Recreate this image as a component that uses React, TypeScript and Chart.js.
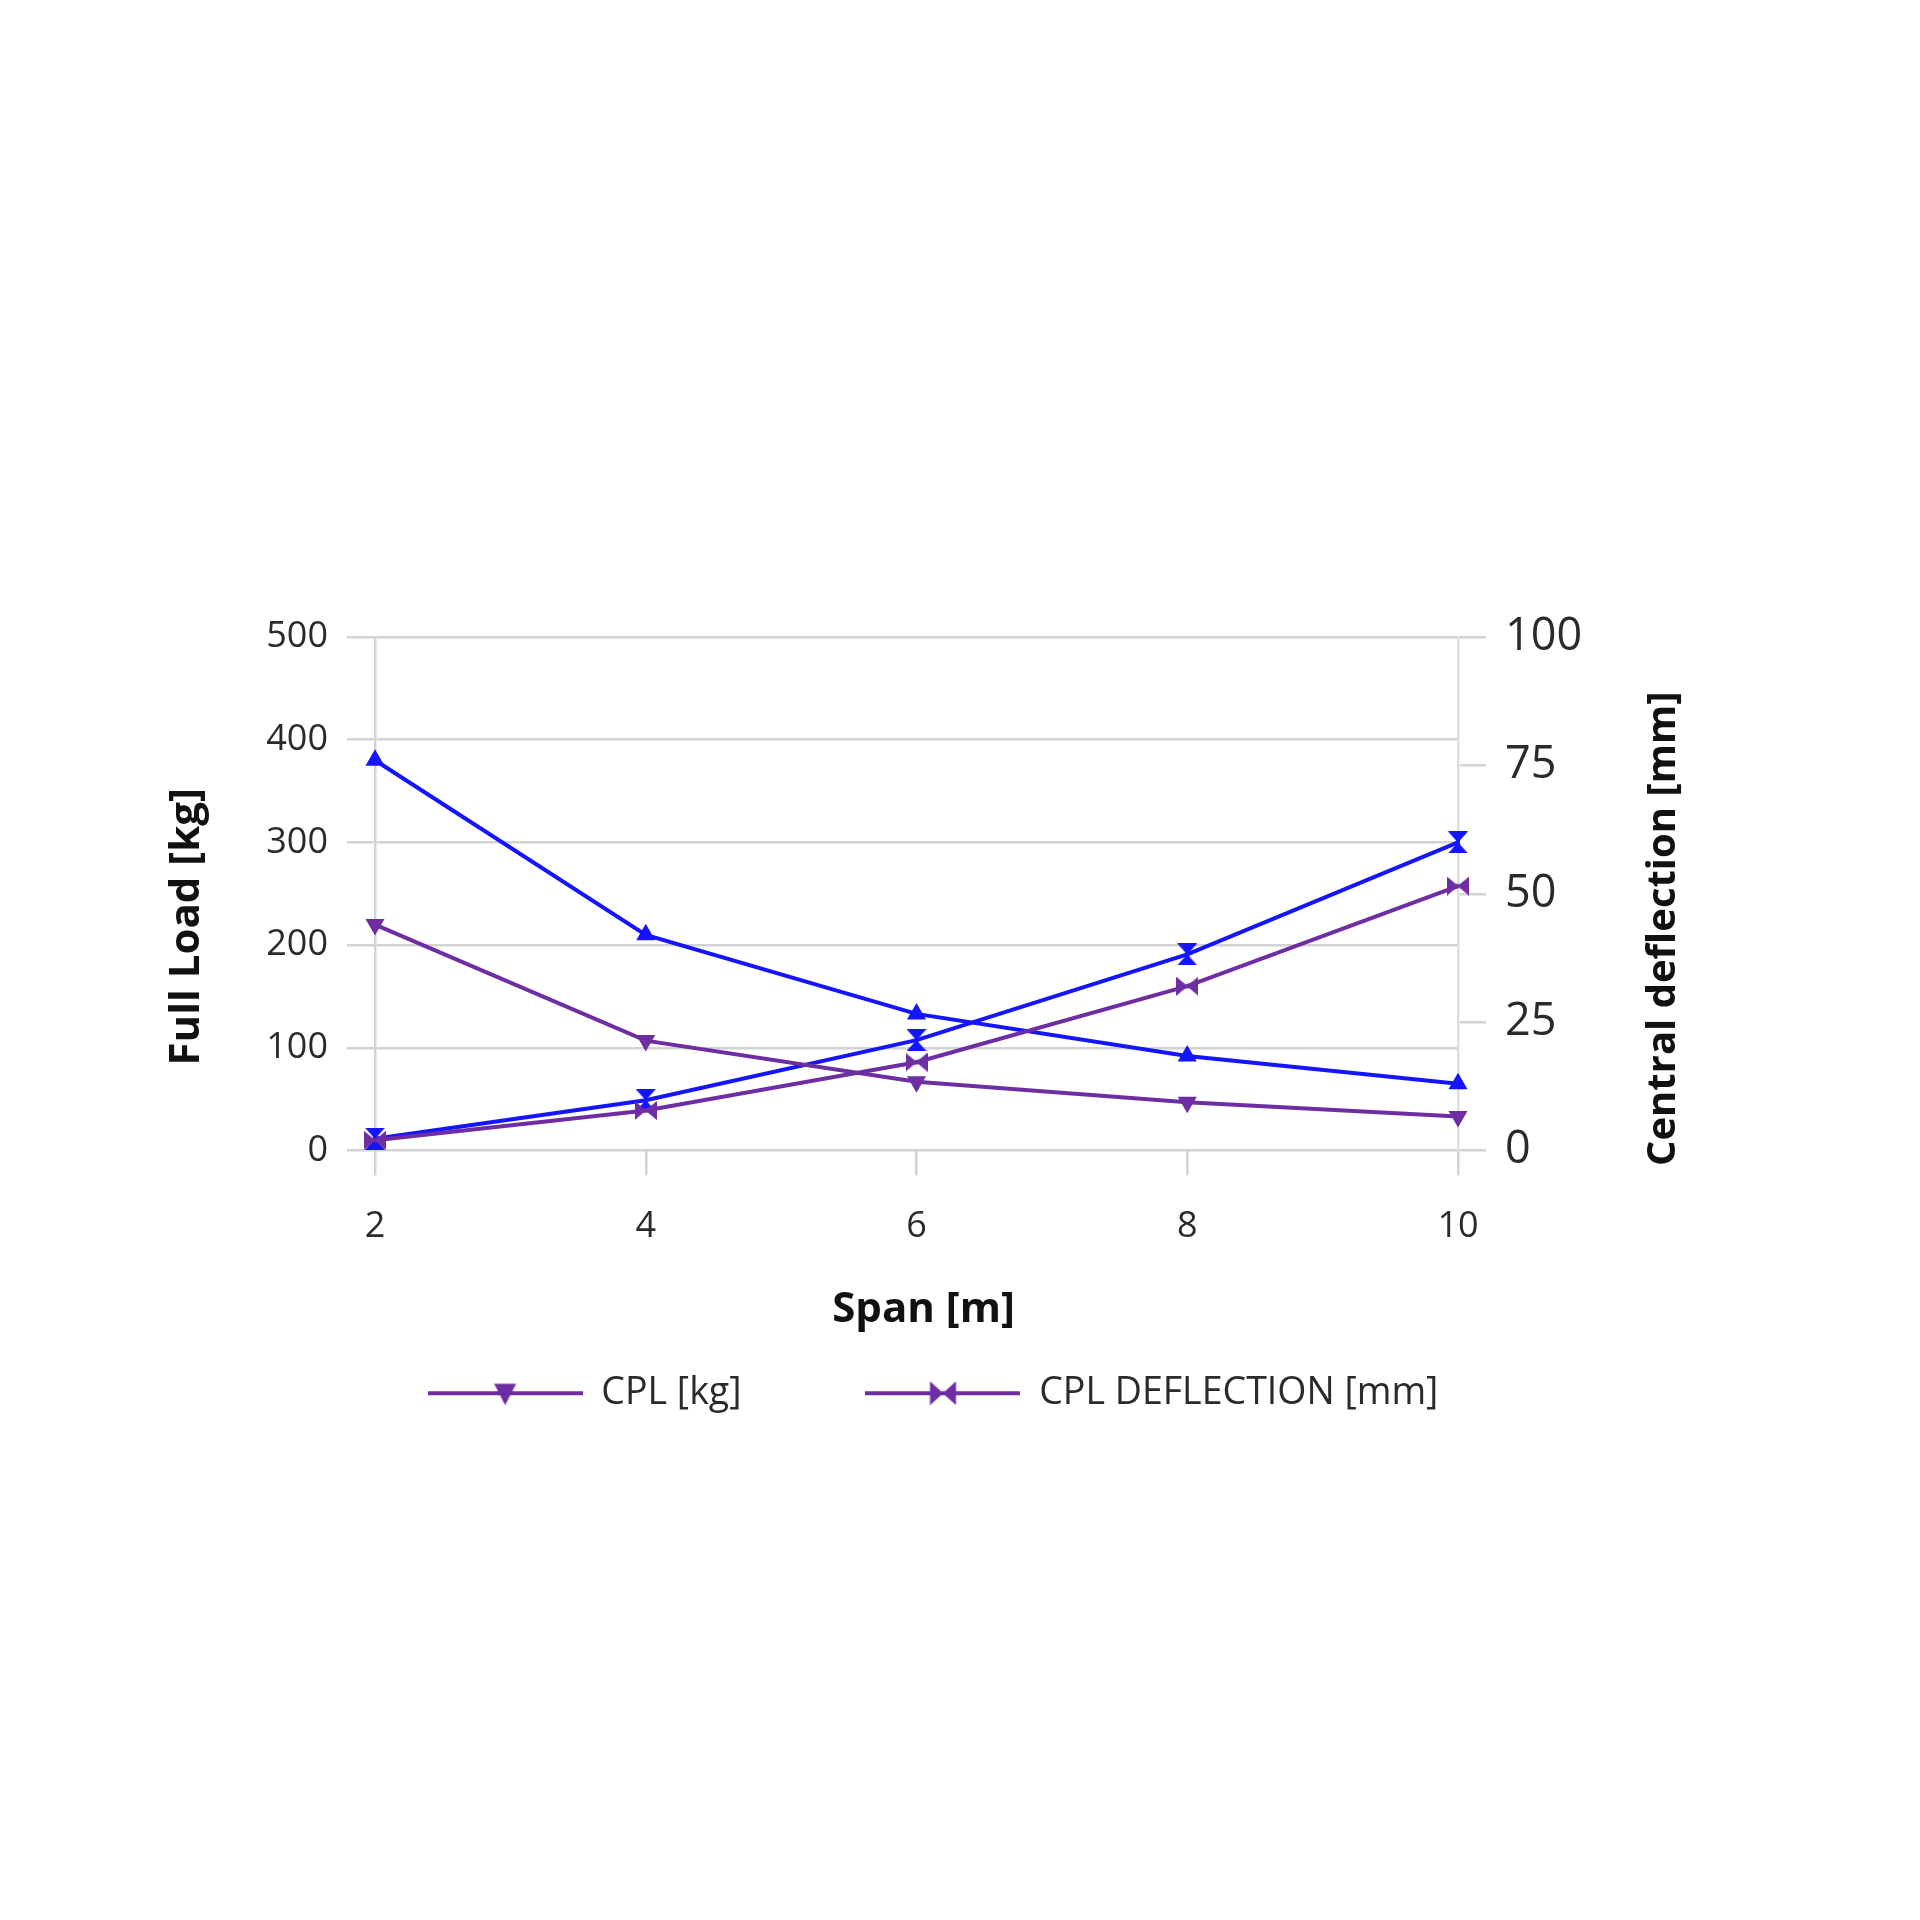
import { useEffect, useRef } from "react"
import { Chart, registerables } from "chart.js"

Chart.register(...registerables)

// Data
const spans = ["2", "4", "6", "8", "10"]
const cplLoad = [220, 107, 67, 47, 33]
const fullLoad = [380, 210, 133, 92, 65]
const cplDeflection = [2, 7.8, 17.2, 32, 51.5]
const fullDeflection = [2.3, 9.8, 21.5, 38.2, 60]

const PURPLE = "#6f2da3"
const BLUE = "#1414ff"
const GRID = "#d3d3d3"
const TEXT = "#2a2a2a"
const FONT = "'Open Sans', 'Noto Sans', sans-serif"

type Kind = "down" | "up" | "hbow" | "vbow"

function traceMarker(ctx: CanvasRenderingContext2D, kind: Kind, cx: number, cy: number, w: number, h: number) {
  const hw = w / 2
  const hh = h / 2
  const neck = 2
  ctx.beginPath()
  if (kind === "down") {
    ctx.moveTo(cx - hw, cy - hh * 0.8)
    ctx.lineTo(cx + hw, cy - hh * 0.8)
    ctx.lineTo(cx, cy + hh)
    ctx.closePath()
  } else if (kind === "up") {
    ctx.moveTo(cx - hw, cy + hh * 0.8)
    ctx.lineTo(cx + hw, cy + hh * 0.8)
    ctx.lineTo(cx, cy - hh)
    ctx.closePath()
  } else if (kind === "hbow") {
    ctx.moveTo(cx - hw, cy - hh)
    ctx.lineTo(cx - neck, cy - neck)
    ctx.lineTo(cx + neck, cy - neck)
    ctx.lineTo(cx + hw, cy - hh)
    ctx.lineTo(cx + hw, cy + hh)
    ctx.lineTo(cx + neck, cy + neck)
    ctx.lineTo(cx - neck, cy + neck)
    ctx.lineTo(cx - hw, cy + hh)
    ctx.closePath()
  } else {
    ctx.moveTo(cx - hw, cy - hh)
    ctx.lineTo(cx + hw, cy - hh)
    ctx.lineTo(cx + neck, cy - neck)
    ctx.lineTo(cx + neck, cy + neck)
    ctx.lineTo(cx + hw, cy + hh)
    ctx.lineTo(cx - hw, cy + hh)
    ctx.lineTo(cx - neck, cy + neck)
    ctx.lineTo(cx - neck, cy - neck)
    ctx.closePath()
  }
  ctx.fill()
}

function markerImage(kind: Kind, color: string, w: number, h: number) {
  const c = document.createElement("canvas")
  c.width = w
  c.height = h
  const ctx = c.getContext("2d")!
  ctx.fillStyle = color
  traceMarker(ctx, kind, w / 2, h / 2, w, h)
  return c
}

function legendImage(kind: Kind, color: string) {
  const c = document.createElement("canvas")
  c.width = 155
  c.height = 26
  const ctx = c.getContext("2d")!
  ctx.strokeStyle = color
  ctx.lineWidth = 4
  ctx.beginPath()
  ctx.moveTo(0, 13)
  ctx.lineTo(155, 13)
  ctx.stroke()
  ctx.fillStyle = color
  if (kind === "hbow") traceMarker(ctx, kind, 77.5, 13, 26, 24)
  else traceMarker(ctx, kind, 77.5, 13, 22, 24)
  return c
}

const axisTitles = {
  id: "axisTitles",
  afterDraw(chart: Chart) {
    const { ctx, chartArea: a } = chart
    const midY = (a.top + a.bottom) / 2
    ctx.save()
    ctx.fillStyle = "#111"
    ctx.textAlign = "center"
    ctx.textBaseline = "middle"

    ctx.font = `bold 42px ${FONT}`
    ctx.save()
    ctx.translate(a.left - 188, midY + 33)
    ctx.rotate(-Math.PI / 2)
    ctx.fillText("Full Load [kg]", 0, 0)
    ctx.restore()

    ctx.font = `bold 40px ${FONT}`
    ctx.save()
    ctx.translate(a.right + 206, midY + 35)
    ctx.rotate(-Math.PI / 2)
    ctx.fillText("Central deflection [mm]", 0, 0)
    ctx.restore()

    ctx.font = `bold 42px ${FONT}`
    ctx.fillText("Span [m]", (a.left + a.right) / 2 + 7, a.bottom + 160)
    ctx.restore()
  },
}

export default function App() {
  const chartRef = useRef<HTMLCanvasElement>(null)
  const chartInstance = useRef<Chart | null>(null)

  useEffect(() => {
    if (!chartRef.current) return
    document.body.style.margin = "0"
    document.body.style.background = "#fff"
    Chart.defaults.font.family = FONT

    const ctx = chartRef.current.getContext("2d")
    if (!ctx) return

    const hbow = markerImage("hbow", PURPLE, 22, 19)
    const vbow = markerImage("vbow", BLUE, 20, 22)

    chartInstance.current = new Chart(ctx, {
      type: "line",
      data: {
        labels: spans,
        datasets: [
          {
            label: "CPL [kg]",
            data: cplLoad,
            yAxisID: "y",
            borderColor: PURPLE,
            backgroundColor: PURPLE,
            borderWidth: 4,
            pointStyle: "triangle",
            rotation: 180,
            pointRadius: 11,
            pointBorderWidth: 0,
          },
          {
            label: "CPL DEFLECTION [mm]",
            data: cplDeflection,
            yAxisID: "y1",
            borderColor: PURPLE,
            backgroundColor: PURPLE,
            borderWidth: 4,
            pointStyle: hbow,
            pointRadius: 11,
          },
          {
            label: "Full load [kg]",
            data: fullLoad,
            yAxisID: "y",
            borderColor: BLUE,
            backgroundColor: BLUE,
            borderWidth: 4,
            pointStyle: "triangle",
            pointRadius: 11,
            pointBorderWidth: 0,
          },
          {
            label: "Full load deflection [mm]",
            data: fullDeflection,
            yAxisID: "y1",
            borderColor: BLUE,
            backgroundColor: BLUE,
            borderWidth: 4,
            pointStyle: vbow,
            pointRadius: 11,
          },
        ],
      },
      options: {
        responsive: false,
        animation: false,
        layout: { padding: { left: 135, right: 189, top: 637, bottom: 498 } },
        plugins: {
          tooltip: { enabled: false },
          legend: {
            position: "bottom",
            labels: {
              usePointStyle: true,
              pointStyleWidth: 155,
              padding: 124,
              color: TEXT,
              font: { size: 37.5 },
              generateLabels: () => [
                { text: "CPL [kg]", pointStyle: legendImage("down", PURPLE), fontColor: TEXT, lineWidth: 0, datasetIndex: 0 },
                { text: "CPL DEFLECTION [mm]", pointStyle: legendImage("hbow", PURPLE), fontColor: TEXT, lineWidth: 0, datasetIndex: 1 },
              ],
            },
          },
        },
        scales: {
          x: {
            type: "category",
            offset: false,
            clip: false,
            grid: { color: GRID, lineWidth: 2.5, tickLength: 25, drawOnChartArea: false },
            border: { display: false },
            ticks: { color: TEXT, font: { size: 36 }, padding: 30 },
            afterFit: (s: any) => {
              s.height = 100
            },
          },
          y: {
            position: "left",
            min: 0,
            max: 500,
            ticks: { stepSize: 100, color: TEXT, font: { size: 36 }, padding: 19 },
            grid: { color: GRID, lineWidth: 2.5, tickLength: 28 },
            border: { display: true, color: GRID, width: 2.5 },
            afterFit: (s: any) => {
              s.width = 240
            },
          },
          y1: {
            position: "right",
            min: 0,
            max: 100,
            ticks: { stepSize: 25, color: TEXT, font: { size: 45 }, padding: 19 },
            grid: { color: GRID, lineWidth: 2.5, tickLength: 28, drawOnChartArea: false },
            border: { display: true, color: "#dedede", width: 2.5 },
            afterFit: (s: any) => {
              s.width = 273
            },
          },
        },
      },
      plugins: [axisTitles],
    })

    return () => {
      if (chartInstance.current) {
        chartInstance.current.destroy()
      }
    }
  }, [])

  return (
    <div style={{ position: "absolute", left: 0, top: 0, width: 1920, height: 1920, background: "#fff" }}>
      <canvas ref={chartRef} width={1920} height={1920} style={{ width: 1920, height: 1920 }}></canvas>
    </div>
  )
}
